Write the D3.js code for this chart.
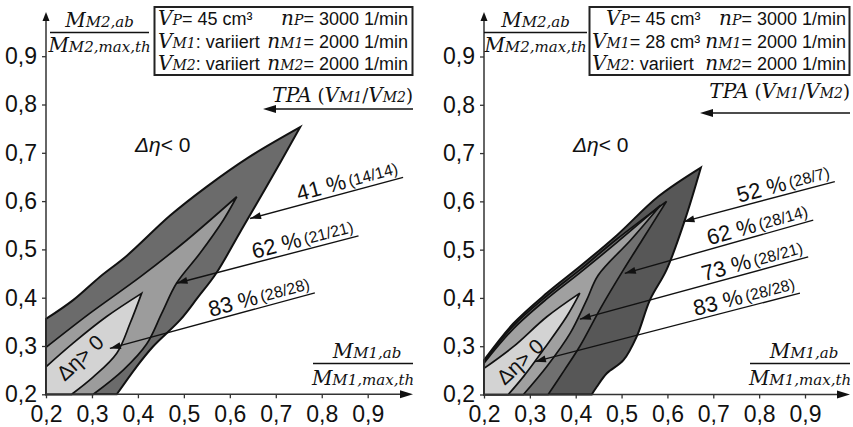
<!DOCTYPE html>
<html lang="de">
<head>
<meta charset="utf-8">
<title>Wirkungsgradvorteil TPA</title>
<script src="https://d3js.org/d3.v7.min.js"></script>
<style>
  body { margin: 0; background: #fff; }
  svg { display: block; }
</style>
</head>
<body>
<div id="chart"></div>
<script>
/* global d3 */

// ---- data ----
var ticks = [0.2, 0.3, 0.4, 0.5, 0.6, 0.7, 0.8, 0.9];

// left panel: TPA with both motors varied
var leftOuterUpper = [[0.2,0.356],[0.259,0.395],[0.317,0.443],[0.376,0.487],[0.47,0.57],[0.55,0.63],[0.64,0.69],[0.753,0.753]];
var leftOuterRight = [[0.753,0.753],[0.68,0.63],[0.622,0.535],[0.57,0.45],[0.53,0.4],[0.492,0.354],[0.433,0.299],[0.397,0.257],[0.354,0.2]];
var leftMidUpper   = [[0.2,0.297],[0.296,0.368],[0.405,0.443],[0.506,0.519],[0.615,0.609]];
var leftMidRight   = [[0.615,0.609],[0.586,0.561],[0.535,0.492],[0.484,0.43],[0.452,0.368],[0.419,0.304],[0.368,0.25],[0.303,0.2]];
var leftInnerUpper = [[0.2,0.257],[0.259,0.306],[0.332,0.361],[0.408,0.409]];
var leftInnerRight = [[0.408,0.409],[0.383,0.347],[0.354,0.285],[0.303,0.236],[0.256,0.2]];

// right panel: V_M1 fixed at 28 cm3
var rightOuterUpper = [[0.2,0.271],[0.264,0.347],[0.337,0.41],[0.409,0.465],[0.49,0.53],[0.58,0.61],[0.673,0.67]];
var rightOuterRight = [[0.673,0.67],[0.638,0.561],[0.598,0.458],[0.562,0.396],[0.533,0.32],[0.504,0.271],[0.468,0.244],[0.446,0.216],[0.435,0.2]];
var right62Upper = [[0.2,0.268],[0.264,0.342],[0.337,0.404],[0.409,0.458],[0.49,0.522],[0.598,0.6]];
var right62Right = [[0.598,0.6],[0.545,0.52],[0.504,0.458],[0.455,0.38],[0.409,0.3],[0.375,0.25],[0.34,0.2]];
var right73Upper = [[0.2,0.265],[0.264,0.336],[0.337,0.398],[0.409,0.452],[0.49,0.515],[0.585,0.592]];
var right73Right = [[0.585,0.592],[0.52,0.52],[0.449,0.447],[0.424,0.396],[0.388,0.327],[0.337,0.258],[0.286,0.2]];
var rightInnerUpper = [[0.2,0.254],[0.264,0.299],[0.337,0.361],[0.409,0.41]];
var rightInnerRight = [[0.409,0.41],[0.38,0.361],[0.329,0.292],[0.286,0.237],[0.253,0.2]];

// arrow annotations: [start x, start y, tip x, tip y] in data units
var leftArrows  = [[0.977,0.649,0.644,0.564],[0.88,0.528,0.484,0.43],[0.785,0.41,0.339,0.295]];
var leftShares  = ["41 %", "62 %", "83 %"];
var leftRatios  = ["(14/14)", "(21/21)", "(28/28)"];
var rightArrows = [[0.965,0.641,0.635,0.558],[0.918,0.561,0.507,0.451],[0.907,0.485,0.409,0.356],[0.889,0.41,0.311,0.268]];
var rightShares = ["52 %", "62 %", "73 %", "83 %"];
var rightRatios = ["(28/7)", "(28/14)", "(28/21)", "(28/28)"];

var SANS = "'Liberation Sans', Arial, sans-serif",
    SERIF = "'DejaVu Serif', serif";

var width = 853, height = 427;

var svg = d3.select("#chart").append("svg")
    .attr("width", width)
    .attr("height", height);

var panels = [
    {
        x: d3.scaleLinear().domain([0.2, 0.9]).range([46, 367.7]),
        y: d3.scaleLinear().domain([0.2, 0.9]).range([394.3, 56.2]),
        xEnd: 413, yTop: 12,
        regions: [
            [leftOuterUpper, leftOuterRight, "#6b6b6b"],
            [leftMidUpper, leftMidRight, "#9c9c9c"],
            [leftInnerUpper, leftInnerRight, "#d3d3d3"]
        ],
        arrows: leftArrows, shares: leftShares, ratios: leftRatios,
        box: [154.5, 7, 258, 68],
        rows: [
            [158, [["V","I"],["P","s"],["= 45 cm³","t"]], [["n","I"],["P","s"],["= 3000 1/min","t"]]],
            [158, [["V","I"],["M1","s"],[": variiert","t"]], [["n","I"],["M1","s"],["= 2000 1/min","t"]]],
            [158, [["V","I"],["M2","s"],[": variiert","t"]], [["n","I"],["M2","s"],["= 2000 1/min","t"]]]
        ],
        rowEnd: 408,
        yFrac: [50, 149], tpa: [413, 102, 109, 263], less: [135, 152], more: [85, 363]
    },
    {
        x: d3.scaleLinear().domain([0.2, 0.9]).range([484, 805]),
        y: d3.scaleLinear().domain([0.2, 0.9]).range([394.5, 56.5]),
        xEnd: 850, yTop: 12,
        regions: [
            [rightOuterUpper, rightOuterRight, "#575757"],
            [right62Upper, right62Right, "#707070"],
            [right73Upper, right73Right, "#a0a0a0"],
            [rightInnerUpper, rightInnerRight, "#d3d3d3"]
        ],
        arrows: rightArrows, shares: rightShares, ratios: rightRatios,
        box: [589.5, 7, 260, 68],
        rows: [
            [606, [["V","I"],["P","s"],["= 45 cm³","t"]], [["n","I"],["P","s"],["= 3000 1/min","t"]]],
            [592, [["V","I"],["M1","s"],["= 28 cm³","t"]], [["n","I"],["M1","s"],["= 2000 1/min","t"]]],
            [592, [["V","I"],["M2","s"],[": variiert","t"]], [["n","I"],["M2","s"],["= 2000 1/min","t"]]]
        ],
        rowEnd: 846,
        yFrac: [484, 587], tpa: [850, 98, 113, 700], less: [573, 152], more: [525, 367]
    }
];

function fmt(v) {
    return d3.format(".1f")(v).replace(".", ",");
}

// text made of italic serif letters, serif subscripts and sans text
function rich(g, x, y, parts, anchor) {
    var t = g.append("text")
        .attr("x", x)
        .attr("y", y)
        .attr("text-anchor", anchor || "start")
        .attr("fill", "#111");
    parts.forEach(function(p) {
        var s = t.append("tspan").text(p[0]);
        if (p[1] === "I") {
            s.attr("font-family", SERIF).attr("font-style", "italic").attr("font-size", 20);
        } else if (p[1] === "s") {
            s.attr("font-family", SERIF).attr("font-style", "italic").attr("font-size", 14);
        } else if (p[1] === "m") {
            s.attr("font-family", SERIF).attr("font-style", "italic").attr("font-size", 15);
        } else if (p[1] === "r") {
            s.attr("font-family", SERIF).attr("font-size", 18);
        } else {
            s.attr("font-family", SANS).attr("font-size", 18);
        }
    });
    return t;
}

function arrowHead(g, x1, y1, x2, y2, len, half) {
    var a = Math.atan2(y2 - y1, x2 - x1),
        bx = x2 - len * Math.cos(a),
        by = y2 - len * Math.sin(a),
        nx = -Math.sin(a) * half,
        ny = Math.cos(a) * half;
    g.append("path")
        .attr("d", "M" + x2 + "," + y2 + "L" + (bx + nx) + "," + (by + ny) + "L" + (bx - nx) + "," + (by - ny) + "Z")
        .attr("fill", "#111");
}

panels.forEach(function(p) {
    var g = svg.append("g");
    var x = p.x, y = p.y;

    var line = d3.line()
        .x(function(d) { return x(d[0]); })
        .y(function(d) { return y(d[1]); })
        .curve(d3.curveCatmullRom.alpha(0.5));

    // efficiency regions, outer first
    p.regions.forEach(function(r, i) {
        var d = line(r[0]) + line(r[1]).replace(/^M/, "L") +
            "L" + x(0.2) + "," + y(0.2) + "Z";
        g.append("path")
            .attr("d", d)
            .attr("fill", r[2])
            .attr("stroke", "#111")
            .attr("stroke-width", i === 0 ? 2 : 1.7)
            .attr("stroke-linejoin", "miter");
    });

    // axes
    var yAxis = d3.axisLeft(y).tickValues(ticks).tickFormat(fmt).tickSize(4).tickPadding(5);
    var xAxis = d3.axisBottom(x).tickValues(ticks).tickFormat(fmt).tickSize(4).tickPadding(7);

    var ga = g.append("g").attr("transform", "translate(" + x(0.2) + ",0)").call(yAxis);
    var gb = g.append("g").attr("transform", "translate(0," + y(0.2) + ")").call(xAxis);
    [ga, gb].forEach(function(a) {
        a.select(".domain").remove();
        a.selectAll("line").attr("stroke", "#333").attr("stroke-width", 1.3);
        a.selectAll("text")
            .attr("font-family", SANS)
            .attr("font-size", 23)
            .attr("fill", "#111");
    });

    g.append("line")
        .attr("x1", x(0.2)).attr("y1", y(0.2))
        .attr("x2", x(0.2)).attr("y2", p.yTop + 6)
        .attr("stroke", "#333").attr("stroke-width", 1.5);
    arrowHead(g, x(0.2), y(0.2), x(0.2), p.yTop, 9, 3.5);
    g.append("line")
        .attr("x1", x(0.2)).attr("y1", y(0.2))
        .attr("x2", p.xEnd - 6).attr("y2", y(0.2))
        .attr("stroke", "#333").attr("stroke-width", 1.5);
    arrowHead(g, x(0.2), y(0.2), p.xEnd, y(0.2), 13, 4);

    // parameter box
    g.append("rect")
        .attr("x", p.box[0]).attr("y", p.box[1])
        .attr("width", p.box[2]).attr("height", p.box[3])
        .attr("fill", "#fff")
        .attr("stroke", "#222")
        .attr("stroke-width", 2);
    p.rows.forEach(function(row, i) {
        var by = 25 + i * 22.5;
        rich(g, row[0], by, row[1], "start");
        rich(g, p.rowEnd, by, row[2], "end");
    });

    // y axis quantity (fraction)
    var fc = (p.yFrac[0] + p.yFrac[1]) / 2;
    rich(g, fc, 27, [["M","I"],["M2,ab","m"]], "middle");
    g.append("line")
        .attr("x1", p.yFrac[0]).attr("x2", p.yFrac[1])
        .attr("y1", 32.5).attr("y2", 32.5)
        .attr("stroke", "#111").attr("stroke-width", 1.5);
    rich(g, fc, 52, [["M","I"],["M2,max,th","m"]], "middle");

    // x axis quantity (fraction)
    var xf = [p.xEnd - 100, p.xEnd];
    var xc = (xf[0] + xf[1]) / 2;
    rich(g, xc + 4, 358, [["M","I"],["M1,ab","m"]], "middle");
    g.append("line")
        .attr("x1", xf[0]).attr("x2", xf[1])
        .attr("y1", 363.5).attr("y2", 363.5)
        .attr("stroke", "#111").attr("stroke-width", 1.5);
    rich(g, xc, 385, [["M","I"],["M1,max,th","m"]], "middle");

    // TPA label with arrow
    rich(g, p.tpa[0], p.tpa[1], [["TPA","I"],[" (","r"],["V","I"],["M1","s"],["/","r"],["V","I"],["M2","s"],[")","r"]], "end");
    g.append("line")
        .attr("x1", p.tpa[0]).attr("y1", p.tpa[2])
        .attr("x2", p.tpa[3] + 8).attr("y2", p.tpa[2])
        .attr("stroke", "#111").attr("stroke-width", 1.5);
    arrowHead(g, p.tpa[0], p.tpa[2], p.tpa[3], p.tpa[2], 13, 4);

    // region notes
    var less = g.append("text")
        .attr("x", p.less[0]).attr("y", p.less[1])
        .attr("font-family", SANS).attr("font-size", 21).attr("fill", "#111");
    less.append("tspan").attr("font-style", "italic").text("Δη");
    less.append("tspan").text("< 0");

    g.append("text")
        .attr("transform", "translate(" + p.more[0] + "," + p.more[1] + ") rotate(-43)")
        .attr("text-anchor", "middle")
        .attr("font-family", SANS).attr("font-size", 21).attr("fill", "#111")
        .text("Δη> 0");

    // share annotations
    p.arrows.forEach(function(a, i) {
        var sx = x(a[0]), sy = y(a[1]), tx = x(a[2]), ty = y(a[3]);
        g.append("line")
            .attr("x1", sx).attr("y1", sy)
            .attr("x2", tx).attr("y2", ty)
            .attr("stroke", "#111").attr("stroke-width", 1.4);
        arrowHead(g, sx, sy, tx, ty, 11, 3.5);

        var ang = Math.atan2(sy - ty, sx - tx) * 180 / Math.PI;
        var t = g.append("text")
            .attr("transform", "translate(" + sx + "," + sy + ") rotate(" + ang + ") translate(-3,-4)")
            .attr("text-anchor", "end")
            .attr("font-family", SANS)
            .attr("fill", "#111");
        t.append("tspan").attr("font-size", 22).text(p.shares[i]);
        t.append("tspan").attr("font-size", 16).attr("dx", 3).attr("dy", -1).text(p.ratios[i]);
    });
});
</script>
</body>
</html>
